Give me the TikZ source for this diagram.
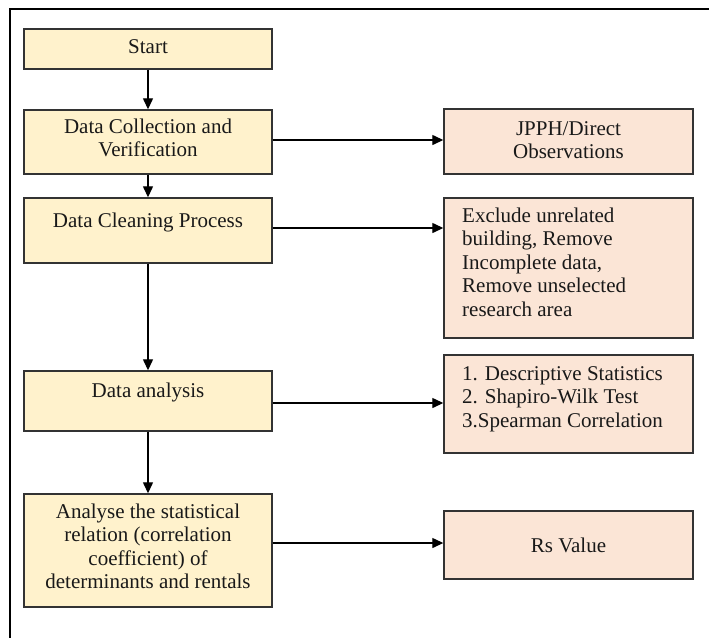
\documentclass[tikz,border=0pt]{standalone}
\usepackage{fontspec}
\setmainfont{Liberation Serif}
\usetikzlibrary{arrows.meta}
\newcommand{\txtblock}[2]{\begin{tabular}[t]{@{}#1@{}}#2\end{tabular}}
\definecolor{stepfill}{HTML}{FFF2CC}
\definecolor{outfill}{HTML}{FBE5D6}
\definecolor{edge}{HTML}{333333}
\begin{document}
\begin{tikzpicture}[x=1pt,y=-1pt,
  stepbox/.style={draw=edge,line width=1.4pt,fill=stepfill,minimum width=248pt,inner sep=0pt},
  outbox/.style={draw=edge,line width=1.4pt,fill=outfill,minimum width=249pt,inner sep=0pt},
  label/.style={inner sep=0pt,text=black!90,font=\fontsize{21}{23.5}\selectfont},
  arr/.style={line width=1.3pt,-{Triangle[width=10pt,length=11pt]}}]
\useasboundingbox (0,0) rectangle (709,638);
% outer frame (top and left edges)
\draw[line width=2pt] (709,9) -- (10,9) -- (10,638);

% main steps
\node[stepbox,minimum height=40pt]  (start)    at (148,49)    {};
\node[stepbox,minimum height=64pt]  (collect)  at (148,142)   {};
\node[stepbox,minimum height=65pt]  (clean)    at (148,230.5) {};
\node[stepbox,minimum height=60pt]  (analysis) at (148,401)   {};
\node[stepbox,minimum height=113pt] (relate)   at (148,550.5) {};

% outputs
\node[outbox,minimum height=65pt]  (jpph)  at (568.5,141.5) {};
\node[outbox,minimum height=140pt] (excl)  at (568.5,268)   {};
\node[outbox,minimum height=98pt]  (stats) at (568.5,404)   {};
\node[outbox,minimum height=68pt]  (rs)    at (568.5,545)   {};

% texts
\node[label,anchor=base] (startT)    at (148,53)  {Start};
\node[label,anchor=base] (collectT)  at (148,133) {\txtblock{c}{Data Collection and\\Verification}};
\node[label,anchor=base] (cleanT)    at (148,227) {Data Cleaning Process};
\node[label,anchor=base] (analysisT) at (148,397) {Data analysis};
\node[label,anchor=base] (relateT)   at (148,518) {\txtblock{c}{Analyse the statistical\\relation (correlation\\coefficient) of\\determinants and rentals}};
\node[label,anchor=base] (jpphT)     at (568.5,135) {\txtblock{c}{JPPH/Direct\\Observations}};
\node[label,anchor=base west] (exclT)  at (462,222) {\txtblock{l}{Exclude unrelated\\building, Remove\\Incomplete data,\\Remove unselected\\research area}};
\node[label,anchor=base west] (statsT) at (462,380) {\txtblock{l}{1. Descriptive Statistics\\2. Shapiro-Wilk Test\\3.Spearman Correlation}};
\node[label,anchor=base] (rsT)       at (568.5,552) {Rs Value};

% flow down the main column
\draw[arr] (start) -- (collect);
\draw[arr] (collect) -- (clean);
\draw[arr] (clean) -- (analysis);
\draw[arr] (analysis) -- (relate);

% branches to the outputs
\draw[arr] ([yshift=2pt]collect.east) -- ([yshift=2pt]collect.east -| jpph.west);
\draw[arr] ([yshift=2.5pt]clean.east) -- ([yshift=2.5pt]clean.east -| excl.west);
\draw[arr] ([yshift=-2pt]analysis.east) -- ([yshift=-2pt]analysis.east -| stats.west);
\draw[arr] ([yshift=2pt]relate.east |- rs.west) -- ([yshift=2pt]rs.west);
\end{tikzpicture}
\end{document}
